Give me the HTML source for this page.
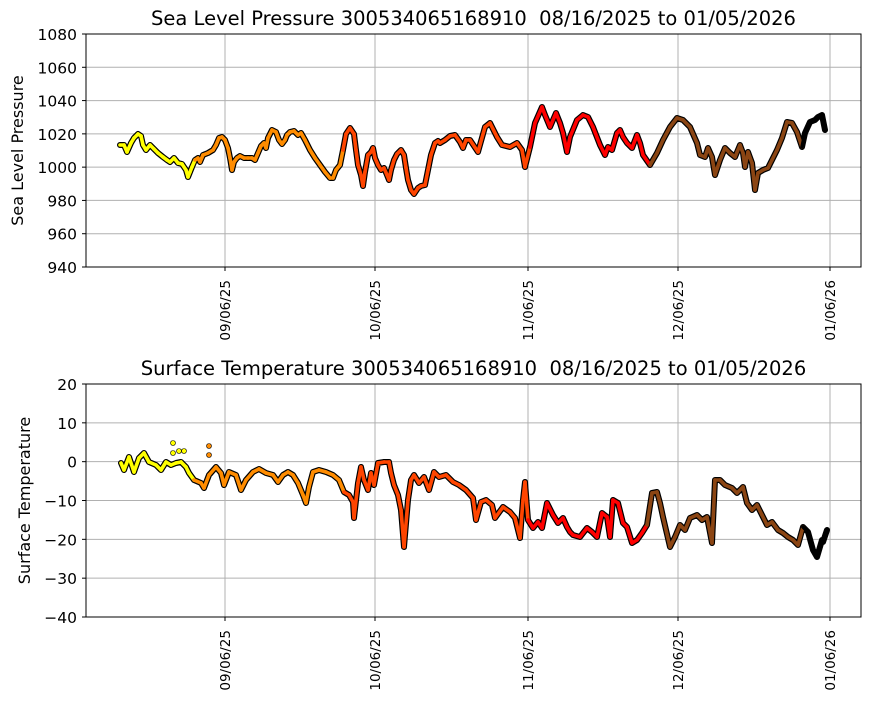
<!DOCTYPE html>
<html><head><meta charset="utf-8"><style>
body{margin:0;background:#fff}
svg{font-family:"DejaVu Sans","Liberation Sans",sans-serif}
</style></head><body>
<svg id="s" width="870" height="700" xmlns="http://www.w3.org/2000/svg"></svg>
<script>
const s=document.getElementById('s');let h='';
function axes(top,bot,yticks,ymin,ymax,title,ylabel,ylx){
  const L=86,R=861;
  const xt=[[225,'09/06/25'],[375,'10/06/25'],[528,'11/06/25'],[678,'12/06/25'],[830,'01/06/26']];
  for(const [x,t] of xt){h+=`<line x1="${x}" y1="${top}" x2="${x}" y2="${bot}" stroke="#b0b0b0" stroke-width="1"/>`;
    h+=`<line x1="${x}" y1="${bot}" x2="${x}" y2="${bot+4}" stroke="#000"/>`;
    h+=`<text transform="translate(${x+5},${bot+13}) rotate(-90)" text-anchor="end" font-size="13.5">${t}</text>`;}
  for(const v of yticks){const y=top+(ymax-v)/(ymax-ymin)*(bot-top);
    h+=`<line x1="${L}" y1="${y}" x2="${R}" y2="${y}" stroke="#b0b0b0" stroke-width="1"/>`;
    h+=`<line x1="${L-4}" y1="${y}" x2="${L}" y2="${y}" stroke="#000"/>`;
    h+=`<text x="${L-9}" y="${y+6}" text-anchor="end" font-size="15.5">${v<0?'\u2212'+(-v):v}</text>`;}
  h+=`<text x="${(L+R)/2}" y="${top-9}" text-anchor="middle" font-size="19.5">${title}</text>`;
  h+=`<text transform="translate(${ylx},${(top+bot)/2}) rotate(-90)" text-anchor="middle" font-size="16">${ylabel}</text>`;
}
function col(x){return x<196?'#ffff00':x<343?'#ff8c00':x<529?'#ff4500':x<647?'#ff0000':x<803?'#8b4513':'#000000';}
function series(p){
  let d='M'+p.map(q=>q.join(',')).join('L');
  h+=`<path d="${d}" fill="none" stroke="#000" stroke-width="6" stroke-linejoin="round" stroke-linecap="round"/>`;
  for(let i=0;i<p.length-1;i++){h+=`<line x1="${p[i][0]}" y1="${p[i][1]}" x2="${p[i+1][0]}" y2="${p[i+1][1]}" stroke="${col((p[i][0]+p[i+1][0])/2)}" stroke-width="3.6" stroke-linecap="round"/>`;}
}
function frame(top,bot){h+=`<rect x="86" y="${top}" width="775" height="${bot-top}" fill="none" stroke="#000" stroke-width="1"/>`;}
axes(34,267,[1080,1060,1040,1020,1000,980,960,940],940,1080,'Sea Level Pressure 300534065168910&#160;&#160;08/16/2025 to 01/05/2026','Sea Level Pressure',23);
series([[120,145],[124,145],[127,152],[131,143],[134,138],[138,134],[141,136],[143,145],[146,150],[150,145],[154,149],[158,153],[163,157],[167,160],[170,162],[174,158],[178,163],[182,164],[186,170],[188,177],[190,172],[192,167],[195,160],[198,158],[200,162],[203,155],[208,153],[213,150],[216,145],[219,138],[222,137],[225,140],[228,148],[230,158],[232,170],[234,162],[237,158],[240,156],[244,158],[248,158],[252,158],[255,160],[258,153],[261,146],[264,143],[266,148],[268,138],[272,130],[276,132],[279,140],[282,144],[285,140],[287,135],[290,132],[294,131],[298,135],[301,133],[305,140],[310,150],[315,158],[320,165],[325,172],[330,178],[333,178],[336,170],[340,165],[343,150],[346,134],[350,128],[354,134],[356,150],[358,165],[361,175],[363,186],[365,172],[368,155],[371,152],[373,148],[375,158],[378,165],[381,170],[384,168],[387,175],[389,180],[391,170],[394,160],[397,154],[401,150],[404,155],[406,168],[408,180],[411,190],[414,194],[418,188],[421,186],[425,185],[428,170],[431,155],[435,143],[438,141],[440,143],[445,140],[450,136],[455,135],[460,142],[463,148],[466,140],[470,140],[478,152],[485,127],[490,123],[497,137],[502,145],[510,147],[517,143],[522,150],[525,167],[530,147],[535,123],[542,107],[545,115],[550,127],[556,113],[560,123],[563,133],[567,152],[570,137],[577,120],[583,115],[588,117],[593,127],[600,145],[605,155],[608,147],[612,150],[617,133],[620,130],[623,137],[627,143],[632,148],[637,135],[640,143],[643,155],[650,165],[657,153],[663,140],[670,127],[677,118],[683,120],[690,127],[697,143],[700,155],[705,157],[708,148],[712,157],[715,175],[720,160],[725,148],[730,153],[735,157],[740,145],[743,153],[745,167],[748,152],[752,163],[755,190],[758,173],[763,170],[768,168],[772,160],[777,150],[782,138],[787,122],[792,123],[797,132],[802,147],[805,133],[810,122],[815,120],[818,117],[822,115],[825,130]]);
frame(34,267);
axes(384,617,[20,10,0,-10,-20,-30,-40],-40,20,'Surface Temperature 300534065168910&#160;&#160;08/16/2025 to 01/05/2026','Surface Temperature',30);
series([[121,463],[124,470],[129,457],[134,472],[139,458],[144,453],[149,462],[156,465],[161,470],[166,462],[171,465],[176,463],[181,462],[186,467],[189,473],[194,480],[201,483],[204,488],[209,475],[216,467],[221,473],[224,485],[229,472],[236,475],[241,490],[246,480],[253,472],[259,469],[266,473],[273,475],[278,482],[283,475],[288,472],[293,475],[298,483],[303,495],[306,503],[309,487],[313,472],[319,470],[326,472],[333,475],[339,480],[344,492],[349,495],[353,502],[354,518],[358,483],[361,467],[364,480],[368,490],[371,473],[374,485],[378,463],[384,462],[389,462],[391,473],[394,485],[398,495],[401,510],[404,547],[408,500],[411,480],[414,475],[419,483],[424,477],[429,490],[434,472],[439,477],[446,475],[453,482],[459,485],[466,490],[473,498],[476,520],[481,502],[486,500],[492,505],[495,518],[503,507],[510,512],[515,518],[520,538],[523,500],[525,482],[528,520],[533,528],[538,522],[542,528],[547,503],[553,515],[558,523],[563,518],[567,527],[570,532],[573,535],[580,537],[587,528],[592,532],[597,537],[602,513],[607,517],[610,537],[613,500],[618,503],[623,523],[627,527],[632,543],[637,540],[642,533],[647,525],[652,493],[657,492],[660,503],[663,517],[670,547],[675,537],[680,525],[685,530],[690,518],[697,515],[702,520],[707,517],[712,543],[715,480],[720,480],[725,485],[732,488],[737,493],[743,487],[747,503],[752,510],[757,505],[762,515],[767,525],[772,522],[778,530],[783,533],[788,537],[793,540],[798,545],[803,527],[808,532],[813,550],[817,557],[822,540],[823,542],[827,530]]);
for(const [x,y,c] of [[173,443,'#ffff00'],[173,453,'#ffff00'],[179,451,'#ffff00'],[184,451,'#ffff00'],[209,446,'#ff8c00'],[209,455,'#ff8c00']])h+=`<circle cx="${x}" cy="${y}" r="2.5" fill="${c}" stroke="#000" stroke-width="0.6"/>`;
frame(384,617);
s.innerHTML=h;
</script>
</body></html>
